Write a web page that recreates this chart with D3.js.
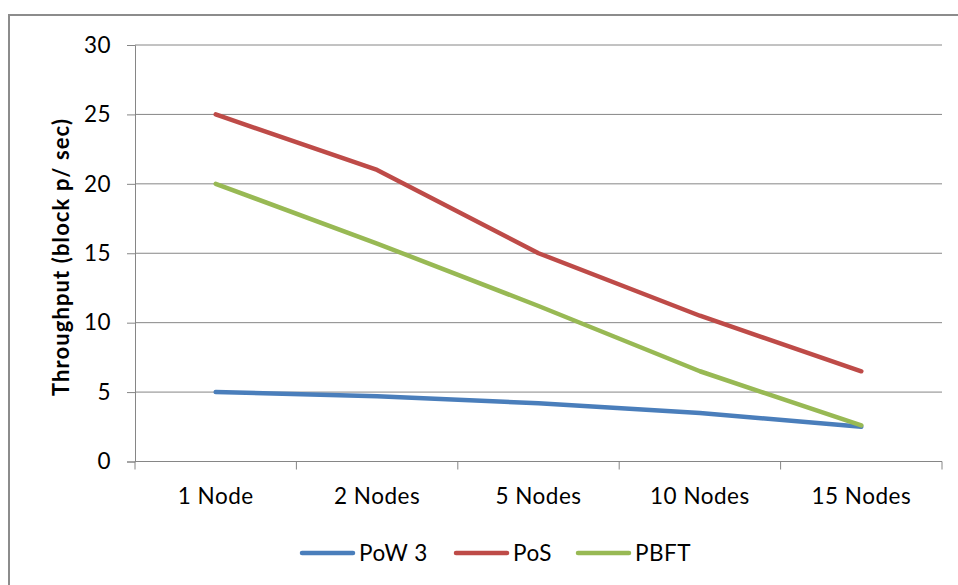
<!DOCTYPE html>
<html>
<head>
<meta charset="utf-8">
<script src="https://cdn.jsdelivr.net/npm/d3@7"></script>
<style>
  html, body { margin: 0; padding: 0; background: #fff; }
  svg { display: block; }
  text { font-family: Lato, "Open Sans", sans-serif; fill: #000; }
</style>
</head>
<body>
<svg id="chart" width="958" height="585"></svg>
<script>
// Throughput by network size for three consensus protocols
const categories = ["1 Node", "2 Nodes", "5 Nodes", "10 Nodes", "15 Nodes"];
const powValues  = [5.0, 4.7, 4.2, 3.5, 2.5];
const posValues  = [25, 21, 15, 10.5, 6.5];
const pbftValues = [20, 15.7, 11.2, 6.5, 2.6];
const yTicks = [0, 5, 10, 15, 20, 25, 30];
const seriesNames = ["PoW 3", "PoS", "PBFT"];
const seriesColors = ["#4a7ebb", "#be4b48", "#98b954"];

const series = [powValues, posValues, pbftValues].map((values, i) => ({
  name: seriesNames[i], color: seriesColors[i], values
}));

const labelFont = "22.5px";
const svg = d3.select("#chart");

// outer chart frame
svg.append("rect")
  .attr("x", 9).attr("y", 15)
  .attr("width", 980).attr("height", 600)
  .attr("fill", "none").attr("stroke", "#8c8c8c").attr("stroke-width", 2);

const plot = { left: 135, right: 942, top: 45, bottom: 461.5 };

const x = d3.scaleBand().domain(categories).range([plot.left, plot.right]);
const y = d3.scaleLinear().domain([0, 30]).range([plot.bottom, plot.top]);

// value axis with left ticks
const yAxis = svg.append("g")
  .attr("transform", `translate(${plot.left},0)`)
  .call(d3.axisLeft(y).tickValues(yTicks).tickSize(8).tickPadding(16));
yAxis.select(".domain").attr("stroke", "#868686");
yAxis.selectAll(".tick line").attr("stroke", "#868686");
yAxis.selectAll(".tick text")
  .attr("font-size", labelFont).attr("fill", "#000")
  .attr("letter-spacing", "0.5px")
  .style("font-family", "Lato, 'Open Sans', sans-serif");

// horizontal gridlines
svg.append("g").selectAll("line").data(yTicks.filter(d => d > 0)).join("line")
  .attr("x1", plot.left).attr("x2", plot.right)
  .attr("y1", d => y(d)).attr("y2", d => y(d))
  .attr("stroke", "#868686").attr("stroke-width", 1);

// category axis with boundary ticks
const xAxisG = svg.append("g").attr("transform", `translate(0,${plot.bottom})`);
xAxisG.append("line")
  .attr("x1", plot.left).attr("x2", plot.right)
  .attr("stroke", "#868686");
const bounds = categories.map(c => x(c)).concat([plot.right]);
xAxisG.selectAll("line.bt").data(bounds).join("line").attr("class", "bt")
  .attr("x1", d => d).attr("x2", d => d).attr("y1", 0).attr("y2", 8)
  .attr("stroke", "#868686");
xAxisG.selectAll("text").data(categories).join("text")
  .attr("x", d => x(d) + x.bandwidth() / 2).attr("y", 42.5)
  .attr("text-anchor", "middle").attr("font-size", labelFont)
  .attr("letter-spacing", "0.5px")
  .text(d => d);

// y-axis title
svg.append("text")
  .attr("transform", `translate(69,257) rotate(-90)`)
  .attr("text-anchor", "middle").attr("font-size", "22px").attr("font-weight", "bold")
  .attr("letter-spacing", "1.1px")
  .text("Throughput (block p/ sec)");

// series lines
const line = d3.line()
  .x((d, i) => x(categories[i]) + x.bandwidth() / 2)
  .y(d => y(d));

svg.append("g").selectAll("path").data(series).join("path")
  .attr("d", d => line(d.values))
  .attr("fill", "none")
  .attr("stroke", d => d.color)
  .attr("stroke-width", 4.5)
  .attr("stroke-linecap", "round")
  .attr("stroke-linejoin", "round");

// legend
const legendX = [300, 454, 576];
const legend = svg.append("g").selectAll("g").data(series).join("g")
  .attr("transform", (d, i) => `translate(${legendX[i]},553)`);
legend.append("line")
  .attr("x1", 2).attr("x2", 53)
  .attr("stroke", d => d.color).attr("stroke-width", 4.5)
  .attr("stroke-linecap", "round");
legend.append("text")
  .attr("x", 59).attr("y", 8).attr("font-size", labelFont)
  .attr("letter-spacing", "0.5px")
  .text(d => d.name);
</script>
</body>
</html>
